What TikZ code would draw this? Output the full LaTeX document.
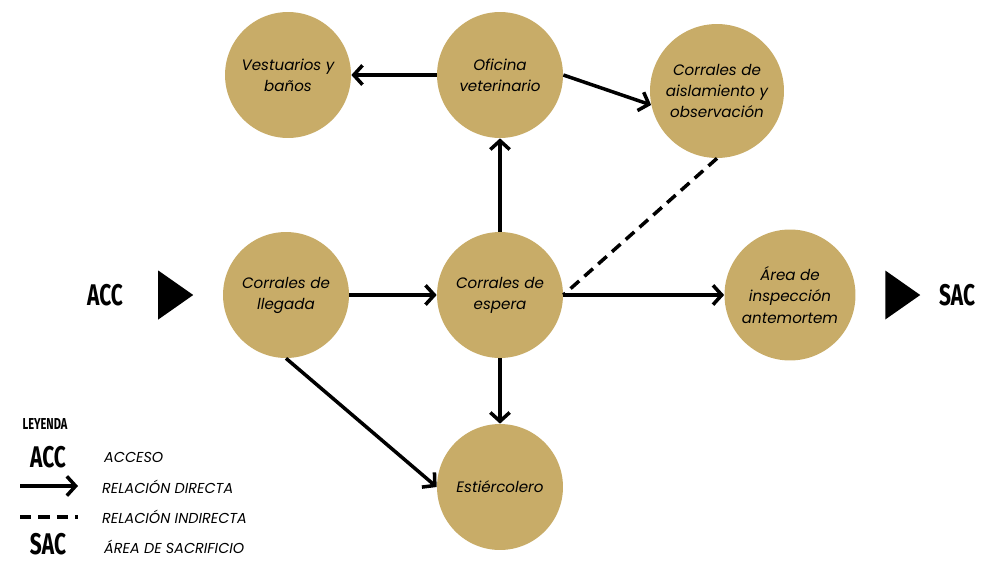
\documentclass[tikz,border=0pt]{standalone}
\usepackage{fontspec}
\setmainfont{Poppins}
\newfontfamily\tagfont{Fira Sans}
\usetikzlibrary{arrows.meta,shapes.geometric}

\definecolor{gold}{HTML}{C8AC68}

\newcommand{\tagtext}[2]{\scalebox{0.7}[1]{\tagfont\bfseries\fontsize{#1}{#1}\selectfont #2}}

\tikzset{
  area/.style={circle, fill=gold, minimum size=2.52cm, inner sep=0pt, align=center,
    font=\itshape\fontsize{8.6}{12}\selectfont},
  rel/.style={line width=2pt, -{Straight Barb[length=5pt,width=11pt,line width=2pt]}},
  indirect/.style={line width=2pt, dash pattern=on 6.5pt off 4pt},
  legtext/.style={anchor=west, font=\itshape\fontsize{8.2}{9}\selectfont},
  tag/.style={inner sep=0pt},
  gate/.style={fill=black, isosceles triangle, isosceles triangle apex angle=70,
    minimum height=0.7cm, inner sep=0pt},
}

\begin{document}
\begin{tikzpicture}[x=0.02cm, y=-0.02cm]
  \useasboundingbox (0,0) rectangle (997,561);

  % zones
  \node[area] (ves) at (288,75) {Vestuarios y\\baños};
  \node[area] (ofi) at (500,75) {Oficina\\veterinario};
  \node[area, minimum size=2.68cm] (ais) at (717,91) {Corrales de\\aislamiento y\\observación};
  \node[area] (lle) at (286,295) {Corrales de\\llegada};
  \node[area] (esp) at (500,295) {Corrales de\\espera};
  \node[area, minimum size=2.62cm] (ant) at (790,295) {Área de\\inspección\\antemortem};
  \node[area] (est) at (500,487) {Estiércolero};

  % access and exit
  \node[tag] (acc) at (105,295) {\tagtext{17}{ACC}};
  \node[gate] (accin) at (171,295) {};
  \node[gate] (sacout) at (898,295) {};
  \node[tag] (sac) at (957,295) {\tagtext{17}{SAC}};

  % relations
  \draw[rel] (ofi) -- (ves);
  \draw[rel] (ofi.east) -- (ais.192);
  \draw[rel] (esp) -- (ofi);
  \draw[rel] (lle) -- (esp);
  \draw[rel] (esp) -- (ant);
  \draw[rel] (esp) -- (est);
  \draw[rel] (lle.south) -- (est.west);
  \draw[indirect] (ais.south) -- (esp.east);

  % legend
  \node[tag] (ley) at (45,424) {\tagtext{9}{LEYENDA}};
  \node[tag] (legacc) at (48,457) {\tagtext{17}{ACC}};
  \node[legtext] (accdesc) at (98,457) {ACCESO};
  \coordinate (ra) at (20,486);
  \coordinate (rb) at (78,486);
  \draw[rel] (ra) -- (rb);
  \node[legtext] (reldesc) at (96,487) {RELACIÓN DIRECTA};
  \coordinate (ia) at (20,517);
  \coordinate (ib) at (78,517);
  \draw[indirect] (ia) -- (ib);
  \node[legtext] (inddesc) at (96,517) {RELACIÓN INDIRECTA};
  \node[tag] (legsac) at (48,544) {\tagtext{17}{SAC}};
  \node[legtext] (sacdesc) at (98,547) {ÁREA DE SACRIFICIO};
\end{tikzpicture}
\end{document}
